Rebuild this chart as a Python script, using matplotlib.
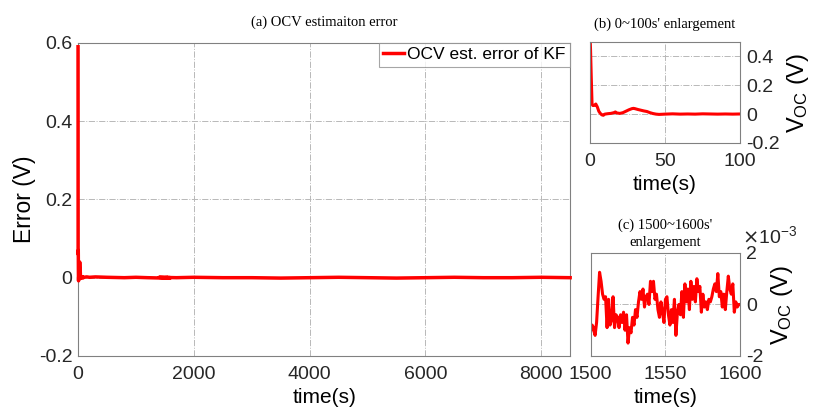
import matplotlib.pyplot as plt
from matplotlib.ticker import FuncFormatter

plt.rcParams['font.family'] = ['Liberation Sans', 'DejaVu Sans']
plt.rcParams['axes.unicode_minus'] = False

# 0~100 s of the estimation error (V)
t_early = [0, 0.5, 1, 1.5, 2, 3, 4, 5, 6, 7, 8, 9, 10, 12, 14, 16, 17, 18, 20, 22, 24,
           26, 28, 29, 30, 32, 34, 36, 38, 40, 42, 44, 46, 50, 55, 60, 65, 70, 75, 80,
           85, 90, 95, 100]
v_early = [0.59, 0.45, 0.25, 0.07, 0.06, 0.06, 0.07, 0.05, 0.02, 0.005, -0.005, -0.008, 0.0,
           0.003, 0.005, 0.01, 0.015, 0.008, 0.005, 0.01, 0.02, 0.03, 0.038, 0.04, 0.038, 0.032,
           0.027, 0.022, 0.018, 0.01, 0.004, 0.0, -0.002, 0.0, 0.002, 0.0, 0.001, 0.0, 0.002,
           0.001, 0.0, 0.001, 0.0, 0.001]

# 1500~1600 s of the estimation error (x1e-3 V)
t_mid = list(range(1500, 1601))
v_mid_milli = [-1.1, -0.8, -0.9, -1.2, -0.7, 0.3, 1.25, 0.9, 0.4, 0.2,
               0.3, -0.9, 0.2, -0.8, -0.6, 0.3, -0.9, -0.4, -0.5, -0.9,
               -0.4, -0.7, -0.3, -1.0, -0.4, -1.5, -0.9, -1.1, -0.5, -0.8,
               -0.2, -0.5, 0.1, 0.5, 0.2, 0.6, -0.1, 0.3, 0.4, 0.0,
               0.9, 0.5, 0.9, 0.2, 0.4, -0.2, -0.5, 0.1, -0.3, -0.7,
               0.2, 0.3, -0.4, -0.8, -0.2, -0.7, 0.2, -1.2, -0.3, 0.0,
               -0.4, 0.5, -0.5, 0.8, 0.1, 0.6, -0.2, 0.9, 0.2, 0.7,
               0.1, 1.0, 0.5, 0.7, -0.3, 0.4, -0.1, 0.1, -0.2, 0.2,
               0.1, 0.3, 0.6, 0.8, 0.5, 1.2, 0.3, 0.5, -0.1, 0.4,
               -0.2, 0.5, 1.1, 0.6, 0.4, 0.8, -0.3, 0.1, -0.1, 0.0, 0.0]
v_mid = [v * 1e-3 for v in v_mid_milli]

# rest of the run (V)
t_late = [150, 200, 300, 500, 800, 1000, 1200, 1400, 1700, 2000, 2500, 3000, 3500,
          4000, 4500, 5000, 5500, 6000, 6500, 7000, 7500, 8000, 8500]
v_late = [0.002, 0.001, 0.002, 0.001, 0.0, 0.001, 0.0, 0.001, 0.0, 0.001, 0.0, 0.0,
          -0.001, 0.0, 0.001, 0.0, -0.001, 0.0, 0.001, 0.0, 0.0, 0.001, 0.0]

# whole run: the 1500~1600 s window is thinned out so the thick line stays clean
t_all = t_early + t_late[:7] + t_mid[::10] + t_late[7:]
v_all = v_early + v_late[:7] + v_mid[::10] + v_late[7:]

grid_kw = dict(color='#b8b8b8', linestyle='-.', linewidth=0.7)
serif = ['Liberation Serif', 'DejaVu Serif']
spine_c = '#808080'
vlabel = r'$\mathregular{V_{OC}}$ (V)'

fig = plt.figure(figsize=(8.18, 4.12), dpi=100)

ax = fig.add_axes([0.0954, 0.136, 0.6016, 0.760])
ax.plot(t_all, v_all, color='red', linewidth=2.5, label='OCV est. error of KF',
        clip_on=False, zorder=3)
ax.set_xlim(0, 8500)
ax.set_ylim(-0.2, 0.6)
ax.set_xticks([0, 2000, 4000, 6000, 8000])
ax.set_yticks([-0.2, 0, 0.2, 0.4, 0.6])
ax.set_yticklabels(['-0.2', '0', '0.2', '0.4', '0.6'])
ax.grid(True, **grid_kw)
ax.set_xlabel('time(s)', fontsize=15, labelpad=4)
ax.set_ylabel('Error (V)', fontsize=16.5, labelpad=2)
ax.set_title('(a) OCV estimaiton error', fontsize=10.5, family=serif, pad=12)
leg = ax.legend(loc='upper right', fontsize=12.5, frameon=True, fancybox=False,
                handlelength=1.2, handletextpad=0.2, borderpad=0.25,
                borderaxespad=0.0, edgecolor='#909090')
leg.get_frame().set_linewidth(0.8)

ax_b = fig.add_axes([0.721, 0.653, 0.184, 0.245])
ax_b.plot(t_early, v_early, color='red', linewidth=2.2)
ax_b.set_xlim(0, 100)
ax_b.set_ylim(-0.2, 0.5)
ax_b.set_xticks([0, 50, 100])
ax_b.set_yticks([-0.2, 0, 0.2, 0.4])
ax_b.set_yticklabels(['-0.2', '0', '0.2', '0.4'])
ax_b.yaxis.tick_right()
ax_b.yaxis.set_label_position('right')
ax_b.grid(True, **grid_kw)
ax_b.set_xlabel('time(s)', fontsize=15, labelpad=4)
ax_b.set_ylabel(vlabel, fontsize=17, labelpad=4)
ax_b.set_title("(b) 0~100s' enlargement", fontsize=10.5, family=serif, pad=10)

ax_c = fig.add_axes([0.722, 0.136, 0.183, 0.250])
ax_c.plot(t_mid, v_mid, color='red', linewidth=2.2)
ax_c.set_xlim(1500, 1600)
ax_c.set_ylim(-2e-3, 2e-3)
ax_c.set_xticks([1500, 1550, 1600])
ax_c.set_yticks([-2e-3, 0, 2e-3])
ax_c.yaxis.set_major_formatter(FuncFormatter(lambda v, pos: '%g' % round(v * 1e3, 6)))
ax_c.yaxis.tick_right()
ax_c.yaxis.set_label_position('right')
ax_c.grid(True, **grid_kw)
ax_c.set_xlabel('time(s)', fontsize=15, labelpad=4)
ax_c.set_ylabel(vlabel, fontsize=17, labelpad=4)
ax_c.set_title("(c) 1500~1600s'\nenlargement", fontsize=10.5, family=serif,
               pad=5, linespacing=1.45, multialignment='center')
ax_c.text(1.01, 1.06, r'$\times\mathregular{10^{-3}}$', transform=ax_c.transAxes,
          fontsize=14, color='#262626', ha='left', va='bottom')

for a in (ax, ax_b, ax_c):
    for s in a.spines.values():
        s.set_color(spine_c)
        s.set_linewidth(0.8)
    a.tick_params(labelsize=14, colors='#262626', length=0)
    a.tick_params(axis='x', pad=7)
    a.tick_params(axis='y', pad=4)

plt.savefig('out.png', dpi=100)
